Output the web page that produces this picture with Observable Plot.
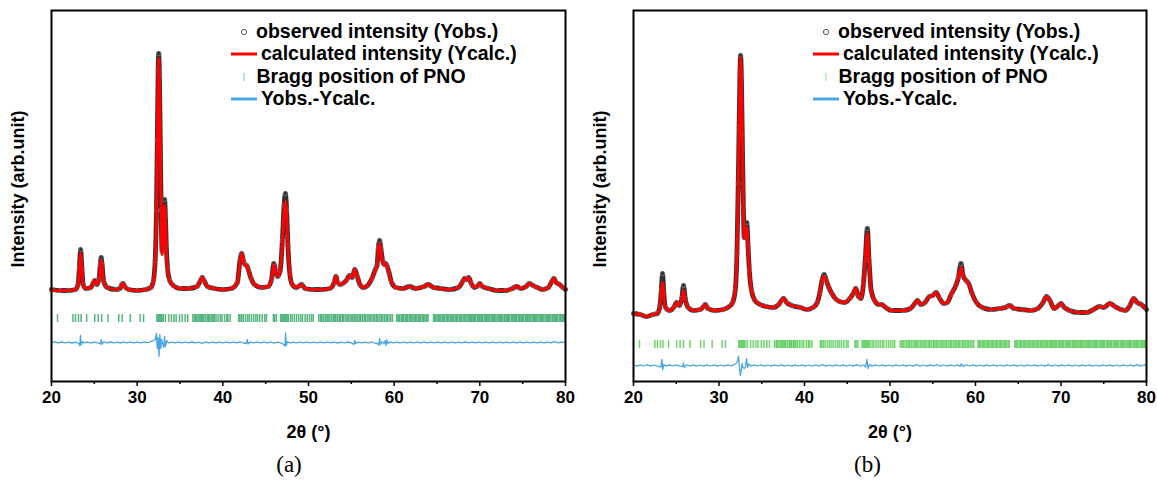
<!DOCTYPE html>
<html><head><meta charset="utf-8">
<script src="https://cdn.jsdelivr.net/npm/d3@7"></script>
<script src="https://cdn.jsdelivr.net/npm/@observablehq/plot@0.6"></script>
<style>
body{margin:0;background:#fff;width:1157px;height:488px;overflow:hidden;position:relative;font-family:"Liberation Sans",Arial,sans-serif;}
.panel{position:absolute;top:0;}
.lg{position:absolute;font-weight:bold;font-size:19.5px;line-height:22px;height:22px;white-space:nowrap;color:#000;}
.sw{position:absolute;overflow:visible;}
.caption{position:absolute;top:452px;font-family:"Liberation Serif","DejaVu Serif",serif;font-size:23px;transform:translateX(-50%);}
svg [aria-label="x-axis tick label"] text{font-weight:bold;}
</style></head><body>
<div id="a" class="panel" style="left:0"></div>
<div id="b" class="panel" style="left:578px"></div>
<script>
// ---------------- DATA ----------------
const xTicks = [20, 30, 40, 50, 60, 70, 80];
const xMinorTicks = [25, 35, 45, 55, 65, 75];
const xLabel = "2θ (°)";
const yLabel = "Intensity (arb.unit)";
const captions = ["(a)", "(b)"];
const legendLabels = ["observed intensity (Yobs.)", "calculated intensity (Ycalc.)", "Bragg position of PNO", "Yobs.-Ycalc."];

// Bragg reflection positions of PNO (2θ, °)
const braggPositions = [20.7,22.5,22.8,23.15,23.45,24.1,25.05,25.45,25.85,26.6,27.85,28.25,29.2,30.35,30.75,
32.3,32.45,32.6,32.75,32.9,33.05,33.3,33.7,34.0,34.3,34.55,34.95,35.25,35.6,35.9,
36.5,36.7,36.85,37.0,37.2,37.35,37.5,37.65,37.8,38.0,38.2,38.35,38.5,38.7,38.85,39.0,39.2,39.45,39.7,39.9,40.2,40.45,40.6,40.85,
41.85,42.0,42.2,42.4,42.65,42.9,43.1,43.35,43.6,43.85,44.05,44.3,44.6,44.9,45.1,45.9,46.05,46.25,
46.75,46.9,47.05,47.2,47.35,47.5,47.65,47.9,48.1,48.35,48.6,48.85,49.1,49.3,49.6,49.85,50.1,50.35,50.55,
51.2,51.4,51.55,51.75,51.95,52.15,52.3,52.5,52.7,52.9,53.05,53.2,53.4,53.6,53.75,53.95,54.1,54.3,54.5,54.65,54.85,55.05,55.2,55.4,55.55,55.75,55.95,56.1,56.3,56.5,56.65,56.85,57.05,57.2,57.4,57.6,57.75,57.95,58.1,58.3,58.5,58.65,58.85,59.05,59.2,59.4,59.6,59.8,
60.3,60.45,60.6,60.8,60.95,61.1,61.3,61.45,61.6,61.8,61.95,62.1,62.3,62.45,62.6,62.8,62.95,63.1,63.3,63.45,63.6,63.8,63.95,
64.6,64.75,64.9,65.1,65.25,65.4,65.6,65.75,65.9,66.1,66.25,66.4,66.6,66.75,66.9,67.1,67.25,67.4,67.6,67.75,67.9,68.1,68.25,68.4,68.6,68.75,68.9,69.05,69.2,69.35,69.5,69.7,69.85,70.0,70.15,70.3,70.5,70.65,70.8,70.95,71.1,71.3,71.45,71.6,71.75,71.9,72.1,72.25,72.4,72.55,72.7,72.9,73.05,73.2,73.35,73.5,73.7,73.85,74.0,74.15,74.3,74.5,74.65,74.8,74.95,75.1,75.3,75.45,75.6,75.75,75.9,76.1,76.25,76.4,76.55,76.7,76.9,77.05,77.2,77.35,77.5,77.7,77.85,78.0,78.15,78.3,78.5,78.65,78.8,78.95,79.1,79.3,79.45,79.6,79.75,79.9];

// Panel (a): [2θ, Yobs, Ycalc]
const profileA = [[20.0,1,0],[21.0,0,0],[22.0,0,0],[22.8,1,1],[23.1,6,5],[23.25,22,20],[23.4,41,37],[23.55,22,20],[23.7,6,5],[24.0,2,2],[24.6,3,3],[24.9,8,8],[25.05,10,10],[25.3,6,6],[25.55,12,11],[25.7,26,24],[25.8,33,30],[25.9,26,24],[26.1,9,8],[26.5,3,3],[27.5,1,1],[28.0,2,2],[28.2,6,6],[28.35,7,7],[28.55,4,4],[29.0,1,1],[30.0,0,0],[31.0,1,1],[31.6,3,3],[31.9,10,9],[32.1,30,28],[32.25,80,75],[32.35,150,145],[32.45,220,215],[32.52,237,232],[32.6,215,212],[32.7,150,150],[32.8,80,78],[32.9,40,36],[33.0,50,46],[33.1,80,76],[33.2,91,85],[33.3,75,72],[33.4,45,42],[33.55,22,20],[33.8,10,10],[34.2,5,5],[35.0,2,2],[36.0,2,2],[37.0,4,4],[37.4,10,10],[37.6,13,13],[37.8,10,10],[38.2,4,4],[39.0,2,2],[40.0,1,1],[41.0,2,2],[41.7,8,8],[42.0,30,29],[42.2,37,37],[42.4,30,29],[42.6,26,25],[42.8,25,25],[43.0,20,20],[43.3,12,12],[43.7,6,6],[44.5,3,3],[45.3,4,4],[45.7,12,12],[45.95,27,26],[46.15,20,19],[46.4,14,14],[46.7,20,20],[46.95,50,48],[47.15,85,80],[47.3,97,89],[47.45,80,75],[47.6,45,43],[47.8,18,18],[48.1,6,6],[48.6,3,3],[49.2,6,6],[49.6,2,2],[50.5,1,1],[51.5,1,1],[52.5,2,2],[53.0,8,8],[53.2,14,14],[53.4,8,8],[53.7,6,6],[54.0,7,7],[54.4,10,10],[54.8,15,15],[55.1,13,13],[55.4,21,21],[55.7,14,14],[56.0,6,6],[56.4,3,3],[56.9,5,5],[57.4,12,12],[57.8,21,20],[58.0,25,24],[58.15,42,40],[58.3,50,47],[58.45,42,40],[58.65,30,29],[58.85,26,26],[59.0,27,27],[59.2,24,23],[59.4,18,17],[59.7,8,8],[60.2,3,3],[61.0,2,2],[61.8,4,4],[62.5,2,2],[63.5,4,4],[64.0,6,6],[64.6,3,3],[65.5,2,2],[66.5,1,1],[67.5,3,3],[68.0,9,9],[68.2,12,12],[68.45,11,11],[68.7,13,13],[69.0,7,7],[69.4,3,3],[69.8,5,5],[70.0,7,7],[70.3,4,4],[71.0,2,2],[72.0,0,0],[73.0,0,0],[73.8,2,2],[74.3,4,4],[74.8,2,2],[75.4,4,4],[75.8,7,7],[76.2,5,5],[76.7,3,3],[77.3,1,1],[78.0,3,3],[78.4,9,9],[78.65,12,12],[78.9,8,8],[79.3,6,6],[79.7,3,3],[80.0,1,1]];

// Panel (a): [2θ, Yobs-Ycalc]
const diffA = [[20,0],[20.4,0.6],[20.8,-0.4],[21.2,0.5],[21.6,-0.3],[22,0.4],[22.4,-0.5],[22.8,0.3],[23.2,-1],[23.3,-3],[23.38,7],[23.46,-2.5],[23.6,1],[23.8,-0.4],[24.2,0.5],[24.6,-0.6],[25,0.4],[25.4,-0.4],[25.7,-1.5],[25.8,2.5],[25.9,-1.8],[26.1,0.8],[26.5,-0.3],[26.9,0.5],[27.3,-0.4],[27.7,0.3],[28.1,-0.5],[28.4,0.6],[28.8,-0.3],[29.2,0.4],[29.6,-0.4],[30,0.3],[30.4,-0.3],[30.8,0.4],[31.2,-0.2],[31.6,0.8],[31.9,2],[32.1,3],[32.25,9],[32.35,-6],[32.45,5],[32.55,-14],[32.65,8],[32.75,-6],[32.85,3],[33.0,-2],[33.1,-5],[33.2,6],[33.3,-4],[33.45,2],[33.65,-0.5],[34,0.4],[34.4,-0.3],[34.8,0.4],[35.2,-0.3],[35.6,0.3],[36,-0.4],[36.4,0.5],[36.8,-0.3],[37.2,0.4],[37.6,-0.8],[38,0.5],[38.4,-0.3],[38.8,0.4],[39.2,-0.4],[39.6,0.3],[40,-0.3],[40.4,0.4],[40.8,-0.3],[41.2,0.4],[41.6,-0.4],[42,0.6],[42.4,-0.5],[42.75,-1],[42.85,3],[42.95,-1.5],[43.2,0.4],[43.6,-0.3],[44,0.4],[44.4,-0.4],[44.8,0.3],[45.2,-0.3],[45.6,0.4],[46,-0.6],[46.4,0.4],[46.8,-0.4],[47.1,-2],[47.25,-3.5],[47.32,9.5],[47.4,-3],[47.55,1],[47.8,-0.4],[48.2,0.4],[48.6,-0.3],[49,0.4],[49.4,-0.3],[49.8,0.3],[50.2,-0.4],[50.6,0.3],[51,-0.3],[51.4,0.4],[51.8,-0.3],[52.2,0.3],[52.6,-0.4],[53,0.4],[53.4,-0.5],[53.8,0.3],[54.2,-0.4],[54.6,0.5],[55,-0.4],[55.3,-2],[55.4,2],[55.5,-1],[55.8,0.4],[56.2,-0.3],[56.6,0.4],[57,-0.4],[57.4,0.5],[57.8,-1],[58.1,-1],[58.2,-3],[58.3,4],[58.4,-2],[58.6,1],[58.8,-1.5],[58.95,2],[59.05,-3],[59.15,2.5],[59.3,-1],[59.5,0.5],[59.9,-0.3],[60.3,0.4],[60.7,-0.3],[61.1,0.3],[61.5,-0.4],[61.9,0.4],[62.3,-0.3],[62.7,0.3],[63.1,-0.4],[63.5,0.4],[63.9,-0.3],[64.3,0.4],[64.7,-0.3],[65.1,0.3],[65.5,-0.4],[65.9,0.3],[66.3,-0.3],[66.7,0.4],[67.1,-0.3],[67.5,0.3],[67.9,-0.4],[68.3,0.5],[68.7,-0.4],[69.1,0.3],[69.5,-0.3],[69.9,0.4],[70.3,-0.4],[70.7,0.3],[71.1,-0.3],[71.5,0.3],[71.9,-0.4],[72.3,0.3],[72.7,-0.3],[73.1,0.4],[73.5,-0.3],[73.9,0.3],[74.3,-0.4],[74.7,0.3],[75.1,-0.3],[75.5,0.4],[75.9,-0.4],[76.3,0.3],[76.7,-0.3],[77.1,0.4],[77.5,-0.3],[77.9,0.3],[78.3,-0.4],[78.7,0.8],[79.1,-0.4],[79.5,0.3],[80,0]];

// Panel (b): [2θ, Yobs, Ycalc]
const profileB = [[20.0,3,3],[20.8,2,2],[21.5,0,0],[22.3,2,2],[22.8,3,3],[23.1,11,10],[23.25,26,24],[23.4,43,34],[23.55,23,22],[23.75,9,9],[24.2,6,6],[24.7,9,9],[25.05,14,14],[25.35,11,11],[25.65,18,17],[25.85,31,26],[26.05,18,17],[26.4,9,9],[27.0,6,6],[27.8,7,7],[28.2,10,10],[28.4,12,12],[28.7,8,8],[29.5,6,6],[30.5,7,7],[31.2,10,10],[31.6,14,14],[31.9,26,26],[32.1,63,62],[32.25,133,132],[32.35,189,188],[32.45,243,242],[32.52,261,259],[32.62,240,239],[32.72,183,183],[32.85,110,109],[32.95,79,78],[33.1,87,86],[33.25,94,89],[33.4,70,69],[33.55,46,46],[33.8,26,26],[34.2,16,16],[34.8,12,12],[35.5,10,10],[36.3,9,9],[37.0,12,12],[37.3,16,16],[37.55,18,18],[37.9,14,14],[38.5,11,11],[39.5,9,9],[40.3,7,7],[41.0,9,9],[41.5,14,14],[41.8,24,24],[42.05,36,36],[42.3,42,40],[42.55,36,36],[42.85,29,29],[43.2,23,23],[43.6,18,18],[44.1,15,15],[44.7,14,14],[45.3,18,18],[45.7,23,23],[46.0,28,28],[46.3,20,20],[46.6,18,18],[46.9,33,33],[47.15,63,63],[47.35,88,83],[47.55,56,56],[47.8,26,26],[48.2,16,16],[48.7,12,12],[49.0,12,12],[49.5,9,9],[50.2,6,6],[51.5,6,6],[52.4,8,8],[52.9,13,13],[53.2,16,16],[53.6,12,12],[54.1,14,14],[54.6,20,20],[55.0,21,21],[55.4,24,24],[55.8,18,18],[56.3,13,13],[56.7,14,14],[57.2,23,23],[57.7,31,31],[58.0,39,39],[58.3,53,49],[58.55,41,41],[58.9,36,36],[59.2,33,33],[59.6,23,23],[60.1,14,14],[60.8,9,9],[61.8,7,7],[62.8,8,8],[63.5,9,9],[64.0,11,11],[64.5,8,8],[65.5,7,7],[66.5,6,6],[67.3,8,8],[67.9,14,14],[68.3,20,20],[68.7,16,16],[69.2,8,8],[69.7,11,11],[70.0,13,13],[70.4,9,9],[71.0,6,6],[72.0,4,4],[73.0,4,4],[73.8,7,7],[74.5,10,10],[75.0,9,9],[75.7,13,13],[76.3,10,10],[77.0,7,7],[77.5,6,6],[78.0,10,10],[78.5,18,18],[78.9,14,14],[79.4,12,12],[80.0,7,7]];

// Panel (b): [2θ, Yobs-Ycalc]
const diffB = [[20,0.3],[20.4,-0.6],[20.8,0.7],[21.2,-0.5],[21.6,0.8],[22,-0.6],[22.4,0.5],[22.8,-0.7],[23.2,-1.5],[23.32,6],[23.42,-4],[23.55,1],[23.8,-0.6],[24.2,0.7],[24.6,-0.5],[25,0.6],[25.4,-0.7],[25.75,-1],[25.85,2.5],[25.95,-2],[26.2,0.6],[26.6,-0.5],[27,0.7],[27.4,-0.6],[27.8,0.5],[28.2,-0.7],[28.6,0.6],[29,-0.5],[29.4,0.7],[29.8,-0.6],[30.2,0.5],[30.6,-0.7],[31,0.6],[31.4,-0.4],[31.8,1],[32.0,2],[32.15,4],[32.28,9],[32.4,-3],[32.5,-10],[32.6,-4],[32.7,2],[32.8,-2],[32.95,-3],[33.1,-1],[33.22,7],[33.35,-2],[33.5,1.5],[33.75,-0.5],[34.1,0.6],[34.5,-0.5],[34.9,0.7],[35.3,-0.6],[35.7,0.5],[36.1,-0.7],[36.5,0.6],[36.9,-0.5],[37.3,0.7],[37.7,-0.6],[38.1,0.5],[38.5,-0.7],[38.9,0.6],[39.3,-0.5],[39.7,0.7],[40.1,-0.6],[40.5,0.5],[40.9,-0.7],[41.3,0.6],[41.7,-0.5],[42.1,0.8],[42.5,-0.6],[42.9,0.5],[43.3,-0.7],[43.7,0.6],[44.1,-0.5],[44.5,0.7],[44.9,-0.6],[45.3,0.5],[45.7,-0.7],[46.1,0.8],[46.5,-0.6],[46.9,0.5],[47.15,-1.5],[47.3,6],[47.42,-3],[47.6,1],[47.9,-0.6],[48.3,0.6],[48.7,-0.5],[49.1,0.7],[49.5,-0.6],[49.9,0.5],[50.3,-0.7],[50.7,0.6],[51.1,-0.5],[51.5,0.7],[51.9,-0.6],[52.3,0.5],[52.7,-0.7],[53.1,0.8],[53.5,-0.6],[53.9,0.5],[54.3,-0.7],[54.7,0.6],[55.1,-0.5],[55.5,0.9],[55.9,-0.6],[56.3,0.5],[56.7,-0.7],[57.1,0.6],[57.5,-0.5],[57.9,0.7],[58.2,-1],[58.35,1.8],[58.5,-0.8],[58.9,0.6],[59.3,-0.5],[59.7,0.7],[60.1,-0.6],[60.5,0.5],[60.9,-0.7],[61.3,0.6],[61.7,-0.5],[62.1,0.7],[62.5,-0.6],[62.9,0.5],[63.3,-0.7],[63.7,0.6],[64.1,-0.5],[64.5,0.7],[64.9,-0.6],[65.3,0.5],[65.7,-0.7],[66.1,0.6],[66.5,-0.5],[66.9,0.7],[67.3,-0.6],[67.7,0.5],[68.1,-0.7],[68.5,0.8],[68.9,-0.6],[69.3,0.5],[69.7,-0.7],[70.1,0.6],[70.5,-0.5],[70.9,0.7],[71.3,-0.6],[71.7,0.5],[72.1,-0.7],[72.5,0.6],[72.9,-0.5],[73.3,0.7],[73.7,-0.6],[74.1,0.5],[74.5,-0.7],[74.9,0.6],[75.3,-0.5],[75.7,0.7],[76.1,-0.6],[76.5,0.5],[76.9,-0.7],[77.3,0.6],[77.7,-0.5],[78.1,0.7],[78.5,-0.6],[78.9,0.9],[79.3,-0.6],[79.7,0.5],[80,0.2]];

// ---------------- CHART ----------------
const FONT = "Liberation Sans, Arial, sans-serif";

function makePanel(cfg) {
  return Plot.plot({
    width: cfg.width, height: 441,
    marginLeft: cfg.marginLeft, marginRight: cfg.marginRight, marginTop: 10, marginBottom: 60,
    style: {fontFamily: FONT, background: "white", overflow: "visible"},
    x: {domain: [20, 80]},
    y: {domain: cfg.yDomain, axis: null},
    marks: [
      Plot.ruleX(braggPositions, {x: d => d, y1: cfg.braggY[0], y2: cfg.braggY[1], stroke: cfg.braggColor, strokeOpacity: 0.75, strokeWidth: 1.5}),
      Plot.line(cfg.diff, {x: d => d[0], y: d => d[1] + cfg.diffOffset, stroke: "#4aa6e2", strokeWidth: 1.3}),
      Plot.line(cfg.profile, {x: d => d[0], y: d => d[1], stroke: "#333", strokeWidth: 4.8, curve: "monotone-x"}),
      Plot.dot(cfg.profile, {x: d => d[0], y: d => d[1], r: 2.2, stroke: "#777", strokeWidth: 0.9, fill: "none"}),
      Plot.line(cfg.profile, {x: d => d[0], y: d => d[2], stroke: "#ff0000", strokeWidth: 3, curve: "monotone-x"}),
      Plot.axisX({ticks: xMinorTicks, tickSize: 3, tickFormat: () => "", label: null, strokeWidth: 1.5}),
      Plot.axisX({ticks: xTicks, tickSize: 5, tickPadding: 4, fontSize: 17, fontWeight: "bold", label: null, strokeWidth: 1.5}),
      Plot.frame({stroke: "black", strokeWidth: 2}),
      Plot.text([xLabel], {text: d => d, frameAnchor: "bottom", dy: 56, fontSize: 18, fontWeight: "bold"}),
      Plot.text([yLabel], {text: d => d, frameAnchor: "left", textAnchor: "middle", lineAnchor: "middle", rotate: -90, dx: -33, dy: -7, fontSize: 18, fontWeight: "bold"})
    ]
  });
}

const panels = [
  {id: "a", left: 0, width: 578, marginLeft: 51, marginRight: 13, yDomain: [-91, 280], profile: profileA, diff: diffA,
   diffOffset: -52, braggY: [-24, -32], braggColor: "#1f9e55", legendTick: "#8fd6a6", caption: captions[0]},
  {id: "b", left: 578, width: 579, marginLeft: 55, marginRight: 11, yDomain: [-65, 306], profile: profileB, diff: diffB,
   diffOffset: -49, braggY: [-24, -32], braggColor: "#3fc43f", legendTick: "#a8e6a8", caption: captions[1]}
];

for (const p of panels) {
  const el = document.getElementById(p.id);
  el.appendChild(makePanel(p));
  // legend (inside frame, top right)
  const L = p.left + p.marginLeft;
  const rows = [31.7, 54.3, 76.7, 99.3];
  const textX = [205, 210, 205.5, 210];
  const sw = [
    `<svg class="sw" width="10" height="10" style="left:${L+187.5}px;top:${rows[0]-5}px"><circle cx="5" cy="5" r="2.6" fill="none" stroke="#555" stroke-width="1"/></svg>`,
    `<svg class="sw" width="26" height="6" style="left:${L+180}px;top:${rows[1]-3}px"><line x1="0" x2="26" y1="3" y2="3" stroke="#ff0000" stroke-width="3"/></svg>`,
    `<svg class="sw" width="4" height="10" style="left:${L+190.5}px;top:${rows[2]-5}px"><line x1="2" x2="2" y1="1" y2="9" stroke="${p.legendTick}" stroke-width="1.3"/></svg>`,
    `<svg class="sw" width="26" height="6" style="left:${L+180}px;top:${rows[3]-3}px"><line x1="0" x2="26" y1="3" y2="3" stroke="#4aa6e2" stroke-width="3"/></svg>`
  ];
  let html = sw.join("");
  legendLabels.forEach((t, i) => {
    html += `<div class="lg" style="left:${L+textX[i]}px;top:${rows[i]-12}px">${t}</div>`;
  });
  html += `<div class="caption" style="left:${p.left + p.width/2}px">${p.caption}</div>`;
  document.body.insertAdjacentHTML("beforeend", html);
}
</script>
</body></html>
